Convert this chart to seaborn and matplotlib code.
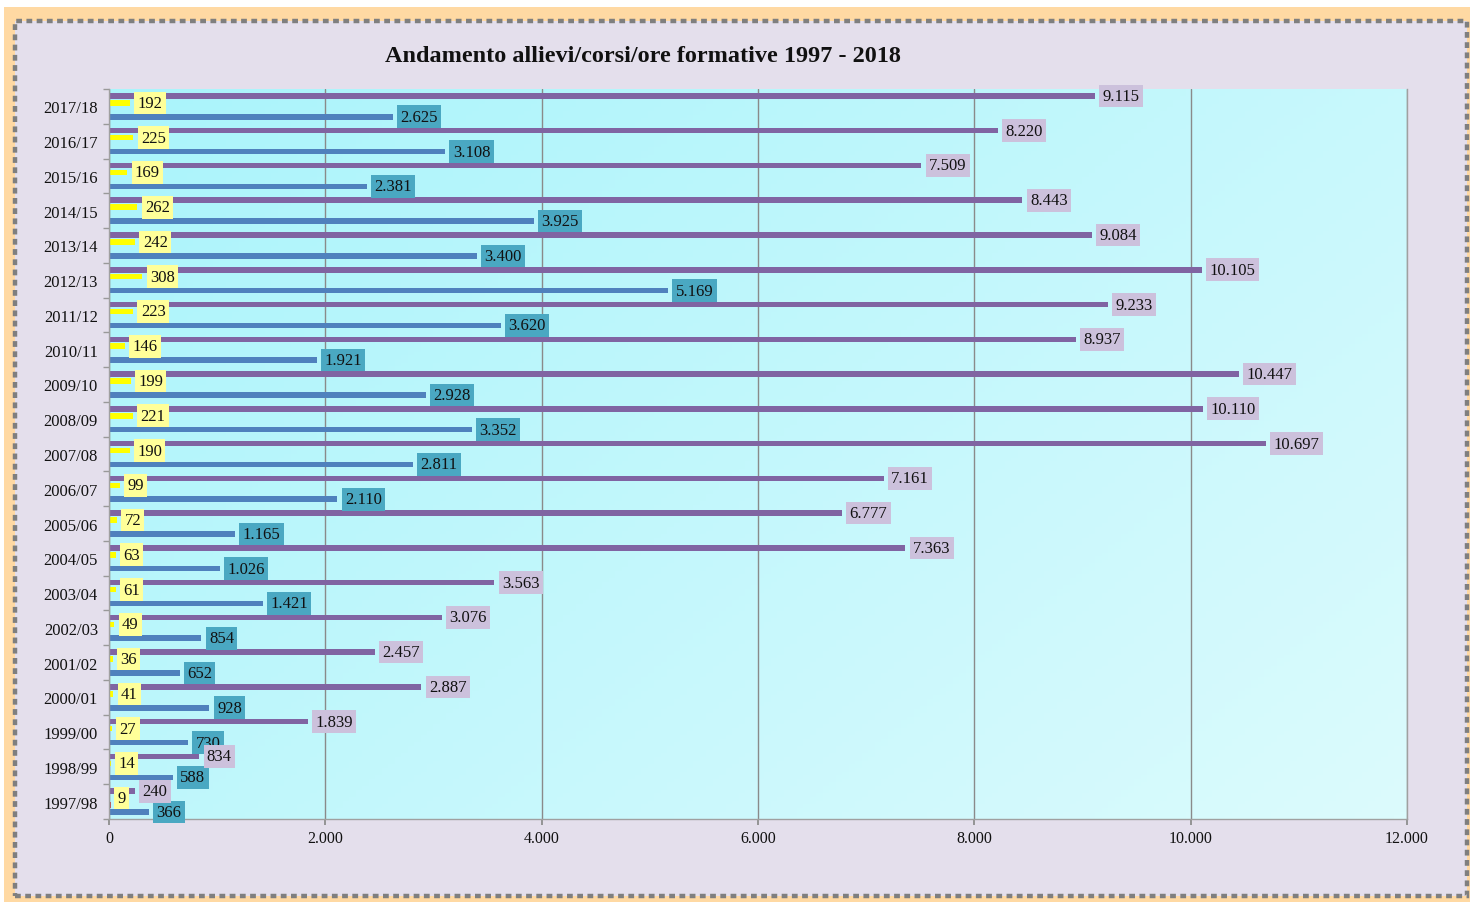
import numpy as np
import pandas as pd
import matplotlib
matplotlib.use("Agg")
import matplotlib.pyplot as plt
import seaborn as sns
from matplotlib.patches import Rectangle
from matplotlib.colors import LinearSegmentedColormap
from matplotlib.ticker import FixedLocator

# ---------------- data ----------------
anni = ["2017/18", "2016/17", "2015/16", "2014/15", "2013/14", "2012/13", "2011/12",
        "2010/11", "2009/10", "2008/09", "2007/08", "2006/07", "2005/06", "2004/05",
        "2003/04", "2002/03", "2001/02", "2000/01", "1999/00", "1998/99", "1997/98"]
allievi = [9115, 8220, 7509, 8443, 9084, 10105, 9233, 8937, 10447, 10110, 10697,
           7161, 6777, 7363, 3563, 3076, 2457, 2887, 1839, 834, 240]
corsi = [192, 225, 169, 262, 242, 308, 223, 146, 199, 221, 190,
         99, 72, 63, 61, 49, 36, 41, 27, 14, 9]
altro = [0, 0, 0, 0, 0, 0, 0, 0, 0, 0, 0,
         0, 0, 0, 0, 0, 0, 0, 0, 0, 20]
ore = [2625, 3108, 2381, 3925, 3400, 5169, 3620, 1921, 2928, 3352, 2811,
       2110, 1165, 1026, 1421, 854, 652, 928, 730, 588, 366]

serie = ["Allievi", "Corsi", "Altro", "Ore formative"]
x_ticks = [0, 2000, 4000, 6000, 8000, 10000, 12000]
titolo = "Andamento allievi/corsi/ore formative 1997 - 2018"

bar_colors = {"Allievi": "#8064a2", "Corsi": "#ffff00", "Altro": "#c0504d",
              "Ore formative": "#4f81bd"}
label_bg = {"Allievi": "#ccc1dc", "Corsi": "#ffff99", "Ore formative": "#4aa8c2"}
label_z = {"Allievi": 6, "Corsi": 7, "Ore formative": 5}


def fmt(v):
    return f"{int(v):,}".replace(",", ".")


df = pd.DataFrame({
    "anno": anni * 4,
    "serie": sum([[s] * len(anni) for s in serie], []),
    "valore": allievi + corsi + altro + ore,
})

# ---------------- figure ----------------
sns.set_theme(style="white")
plt.rcParams['font.family'] = ['Liberation Serif', 'DejaVu Serif']

W, H = 1470, 903
fig = plt.figure(figsize=(W / 100, H / 100), dpi=100)
fig.patch.set_facecolor("white")

# decorative frame
fig.add_artist(Rectangle((4 / W, 0), 1, (H - 8) / H, transform=fig.transFigure,
                         facecolor="#ffd9a3", edgecolor="none", zorder=-10))
fig.add_artist(Rectangle((15 / W, 1 - 897 / H), (1467 - 15) / W, (897 - 22) / H,
                         transform=fig.transFigure, facecolor="#e4dfec",
                         edgecolor="#7f7f7f", lw=3.2, linestyle=(0, (1.3, 1.0)),
                         zorder=-9))

left, right, top, bottom = 109, 1407, 90, 820
pos = [left / W, 1 - bottom / H, (right - left) / W, (bottom - top) / H]

# gradient background of the plot area
bg_ax = fig.add_axes(pos, zorder=-1)
cmap = LinearSegmentedColormap.from_list("bg", ["#aaf4fb", "#dcfbfd"])
gx, gy = np.meshgrid(np.linspace(0, 1, 200), np.linspace(0, 1, 200))
grad = (gx * 0.6 + gy * 0.4)
bg_ax.imshow(grad, cmap=cmap, aspect="auto", extent=[0, 1, 1, 0], origin="upper")
bg_ax.set_axis_off()

ax = fig.add_axes(pos)
ax.set_facecolor("none")

sns.barplot(data=df, x="valore", y="anno", hue="serie", order=anni,
            hue_order=serie, palette=bar_colors, orient="h", width=0.8,
            gap=0.2, saturation=1, legend=False, errorbar=None, ax=ax,
            linewidth=0, edgecolor="none")

for cont, name in zip(ax.containers, serie):
    if name == "Altro":
        continue
    texts = ax.bar_label(cont, labels=[fmt(v) for v in cont.datavalues], padding=5.5,
                         fontsize=12, color="#111111",
                         bbox=dict(boxstyle="square,pad=0.2", fc=label_bg[name], ec="none"))
    for t in texts:
        t.set_zorder(label_z[name])

ax.set_xlim(0, 12000)
ax.set_ylim(20.5, -0.5)
ax.set_xticks(x_ticks)
ax.set_xticklabels([fmt(v) for v in x_ticks])
ax.set_xlabel("")
ax.set_ylabel("")
ax.set_axisbelow(True)
ax.xaxis.grid(True, color="#8a8a8a", lw=1)
ax.yaxis.grid(False)

for s in ["left", "bottom", "right"]:
    ax.spines[s].set_visible(True)
    ax.spines[s].set_color("#a0a0a0")
    ax.spines[s].set_linewidth(1)
ax.spines["top"].set_visible(False)

ax.tick_params(axis="x", bottom=True, length=4, color="#8a8a8a", pad=4,
               labelsize=11.5, labelcolor="#111111")
ax.tick_params(axis="y", which="major", left=True, length=0, pad=8,
               labelsize=12, labelcolor="#111111")
ax.yaxis.set_minor_locator(FixedLocator(np.arange(-0.5, 21, 1)))
ax.tick_params(axis="y", which="minor", left=True, length=4, color="#999999")

fig.text(643 / W, 1 - 57 / H, titolo, ha="center", va="center",
         fontsize=17.5, fontweight="bold", color="#111111")

fig.savefig("out.png", dpi=100)
